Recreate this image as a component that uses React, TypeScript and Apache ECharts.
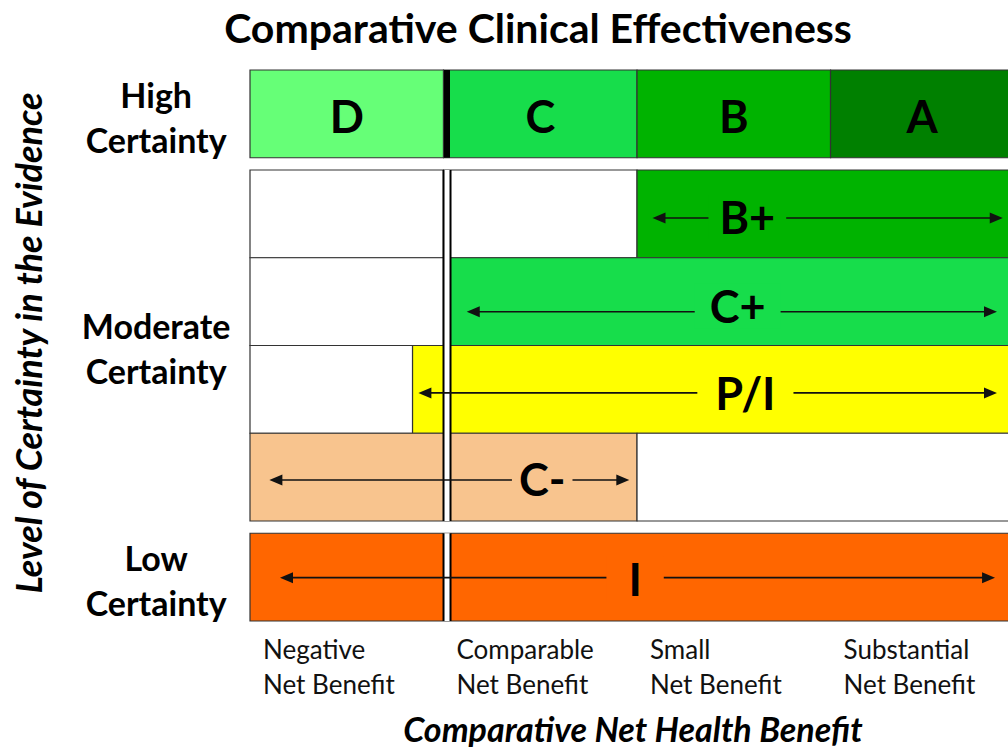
import React, { useEffect, useRef } from "react";
import * as echarts from "echarts";

const FONT = "Lato, 'Open Sans', sans-serif";

const chartTitle = "Comparative Clinical Effectiveness";
const xAxisTitle = "Comparative Net Health Benefit";
const yAxisTitle = "Level of Certainty in the Evidence";

// x tick labels (columns of net health benefit)
const columnLabels = [
  "Negative\nNet Benefit",
  "Comparable\nNet Benefit",
  "Small\nNet Benefit",
  "Substantial\nNet Benefit",
];

// certainty group labels and their vertical centres (y units)
const certaintyLabels = ["High\nCertainty", "Moderate\nCertainty", "Low\nCertainty"];
const certaintyCenters = [0.54, 3.17, 5.81];

// row bands in y units [top, bottom]
const rowBands: [number, number][] = [
  [0, 1],
  [1.14, 2.14],
  [2.14, 3.14],
  [3.14, 4.14],
  [4.14, 5.14],
  [5.28, 6.28],
];

// cells: [row, fromX, toX, rating]
const cells: [number, number, number, string][] = [
  [0, 0, 1, "D"],
  [0, 1, 2, "C"],
  [0, 2, 3, "B"],
  [0, 3, 4, "A"],
  [1, 0, 1, ""],
  [1, 1, 2, ""],
  [1, 2, 4, "B+"],
  [2, 0, 1, ""],
  [2, 1, 4, "C+"],
  [3, 0, 0.84, ""],
  [3, 0.84, 4, "P/I"],
  [4, 0, 2, "C-"],
  [4, 2, 4, ""],
  [5, 0, 4, "I"],
];

// arrows: [fromX, toX, lineY, labelX, labelY, rating]
const arrows: [number, number, number, number, number, string][] = [
  [2.08, 3.89, 1.687, 2.57, 1.675, "B+"],
  [1.12, 3.86, 2.755, 2.52, 2.69, "C+"],
  [0.87, 3.86, 3.68, 2.56, 3.68, "P/I"],
  [0.1, 1.96, 4.673, 1.51, 4.66, "C-"],
  [0.155, 3.85, 5.786, 1.99, 5.8, "I"],
];

// dividers between negative and comparable: [x, fromY, toY, kind]
const dividers: [number, number, number, string][] = [
  [1, 0, 1, "solid"],
  [1, 1.14, 5.14, "double"],
  [1, 5.28, 6.28, "double"],
];

const ratingColors: Record<string, string> = {
  D: "#66ff77",
  C: "#17dd4b",
  B: "#00b300",
  A: "#008000",
  "B+": "#00b300",
  "C+": "#17dd4b",
  "P/I": "#ffff00",
  "C-": "#f8c48e",
  I: "#ff6600",
  "": "#ffffff",
};

const labelPadding: Record<string, number> = {
  "B+": 11,
  "C+": 15,
  "P/I": 18,
  "C-": 7,
  I: 22,
};

export default function App() {
  const ref = useRef<HTMLDivElement>(null);

  useEffect(() => {
    if (!ref.current) return;
    const chart = echarts.init(ref.current, null, { renderer: "svg" });

    const option: any = {
      animation: false,
      backgroundColor: "#ffffff",
      grid: { left: 250, top: 70, right: 0, height: 551, containLabel: false },
      xAxis: {
        type: "value",
        min: 0,
        max: 3.917,
        interval: 1,
        axisLine: { show: false },
        axisTick: { show: false },
        splitLine: { show: false },
        axisLabel: {
          show: true,
          formatter: (v: number) => columnLabels[v] ?? "",
          align: "left",
          padding: [0, 0, 0, 13],
          margin: 10,
          fontFamily: FONT,
          fontSize: 26,
          lineHeight: 35,
          color: "#111",
          showMaxLabel: false,
        },
      },
      yAxis: {
        type: "value",
        min: 0,
        max: 6.28,
        inverse: true,
        show: false,
      },
      graphic: [
        {
          type: "text",
          x: 538,
          y: 27,
          style: {
            text: chartTitle,
            font: `bold 41px ${FONT}`,
            fill: "#000",
            align: "center",
            verticalAlign: "middle",
          },
        },
        {
          type: "text",
          x: 28,
          y: 343,
          rotation: Math.PI / 2,
          style: {
            text: yAxisTitle,
            font: `italic bold 36px ${FONT}`,
            fill: "#000",
            align: "center",
            verticalAlign: "middle",
          },
        },
        {
          type: "text",
          x: 633,
          y: 728,
          style: {
            text: xAxisTitle,
            font: `italic bold 34px ${FONT}`,
            fill: "#000",
            align: "center",
            verticalAlign: "middle",
          },
        },
      ],
      series: [
        {
          type: "custom",
          coordinateSystem: "cartesian2d",
          data: cells.map((c) => [c[1], c[2], rowBands[c[0]][0], rowBands[c[0]][1], c[0]]),
          renderItem: (params: any, api: any) => {
            const cell = cells[params.dataIndex];
            const p0 = api.coord([api.value(0), api.value(2)]);
            const p1 = api.coord([api.value(1), api.value(3)]);
            const children: any[] = [
              {
                type: "rect",
                shape: { x: p0[0], y: p0[1], width: p1[0] - p0[0], height: p1[1] - p0[1] },
                style: { fill: ratingColors[cell[3]], stroke: "#333", lineWidth: 1.2 },
              },
            ];
            if (cell[0] === 0) {
              const cx = Math.min((p0[0] + p1[0]) / 2, 922);
              children.push({
                type: "text",
                x: cx,
                y: (p0[1] + p1[1]) / 2 + 2,
                style: {
                  text: cell[3],
                  font: `bold 45px ${FONT}`,
                  fill: "#000",
                  align: "center",
                  verticalAlign: "middle",
                },
              });
            }
            return { type: "group", children };
          },
        },
        {
          type: "custom",
          coordinateSystem: "cartesian2d",
          data: dividers.map((d) => [d[0], d[1], d[2]]),
          renderItem: (params: any, api: any) => {
            const kind = dividers[params.dataIndex][3];
            const p0 = api.coord([api.value(0), api.value(1)]);
            const p1 = api.coord([api.value(0), api.value(2)]);
            const c = p0[0];
            if (kind === "solid") {
              return {
                type: "rect",
                shape: { x: c + 0.5, y: p0[1], width: 6, height: p1[1] - p0[1] },
                style: { fill: "#000" },
              };
            }
            return {
              type: "group",
              children: [
                {
                  type: "rect",
                  shape: { x: c, y: p0[1], width: 7, height: p1[1] - p0[1] },
                  style: { fill: "#fff" },
                },
                {
                  type: "line",
                  shape: { x1: c, y1: p0[1], x2: c, y2: p1[1] },
                  style: { stroke: "#000", lineWidth: 2 },
                },
                {
                  type: "line",
                  shape: { x1: c + 7, y1: p0[1], x2: c + 7, y2: p1[1] },
                  style: { stroke: "#000", lineWidth: 2 },
                },
              ],
            };
          },
        },
        {
          type: "custom",
          coordinateSystem: "cartesian2d",
          data: arrows.map((a) => [a[0], a[1], a[2], a[3], a[4]]),
          renderItem: (params: any, api: any) => {
            const label = arrows[params.dataIndex][5];
            const p0 = api.coord([api.value(0), api.value(2)]);
            const p1 = api.coord([api.value(1), api.value(2)]);
            const pt = api.coord([api.value(3), api.value(4)]);
            const head = 13;
            const half = 5.5;
            return {
              type: "group",
              children: [
                {
                  type: "line",
                  shape: { x1: p0[0] + head - 2, y1: p0[1], x2: p1[0] - head + 2, y2: p1[1] },
                  style: { stroke: "#111", lineWidth: 1.6 },
                },
                {
                  type: "polygon",
                  shape: {
                    points: [
                      [p0[0], p0[1]],
                      [p0[0] + head, p0[1] - half],
                      [p0[0] + head, p0[1] + half],
                    ],
                  },
                  style: { fill: "#111" },
                },
                {
                  type: "polygon",
                  shape: {
                    points: [
                      [p1[0], p1[1]],
                      [p1[0] - head, p1[1] - half],
                      [p1[0] - head, p1[1] + half],
                    ],
                  },
                  style: { fill: "#111" },
                },
                {
                  type: "text",
                  x: pt[0],
                  y: pt[1],
                  style: {
                    text: label,
                    font: `bold 45px ${FONT}`,
                    fill: "#000",
                    align: "center",
                    verticalAlign: "middle",
                    backgroundColor: ratingColors[label],
                    padding: [0, labelPadding[label] ?? 12],
                  },
                },
              ],
            };
          },
        },
        {
          type: "custom",
          coordinateSystem: "cartesian2d",
          data: certaintyCenters.map((y) => [-0.485, y]),
          renderItem: (params: any, api: any) => {
            const p = api.coord([api.value(0), api.value(1)]);
            return {
              type: "text",
              x: p[0],
              y: p[1],
              style: {
                text: certaintyLabels[params.dataIndex],
                font: `bold 34px ${FONT}`,
                lineHeight: 45,
                fill: "#000",
                align: "center",
                verticalAlign: "middle",
              },
            };
          },
        },
      ],
    };

    chart.setOption(option);
    return () => chart.dispose();
  }, []);

  return (
    <div
      ref={ref}
      style={{ position: "absolute", left: 0, top: 0, width: 1008, height: 747 }}
    />
  );
}
